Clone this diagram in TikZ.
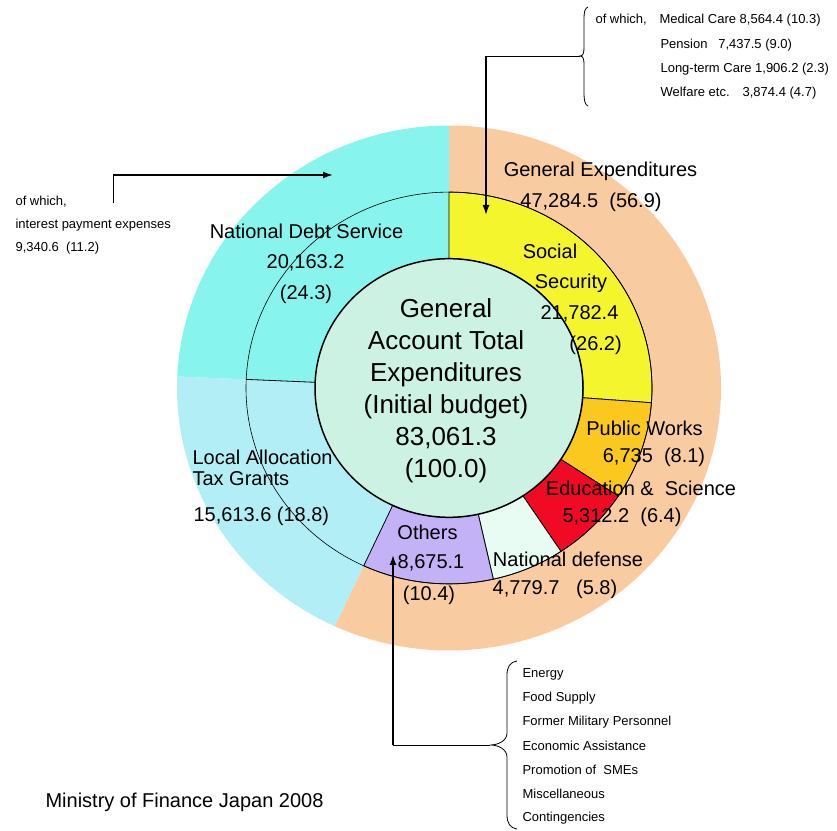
\documentclass[tikz,border=0pt]{standalone}
\usepackage{fontspec}
\setmainfont{Liberation Sans}
\usetikzlibrary{arrows.meta}
\definecolor{debtcyan}{RGB}{135,245,238}
\definecolor{alloblue}{RGB}{178,238,246}
\definecolor{genpeach}{RGB}{248,204,160}
\definecolor{ssyellow}{RGB}{245,245,45}
\definecolor{pworange}{RGB}{250,200,30}
\definecolor{esred}{RGB}{240,10,35}
\definecolor{ndmint}{RGB}{232,252,244}
\definecolor{otlilac}{RGB}{196,178,246}
\definecolor{totmint}{RGB}{204,242,228}
\begin{document}
\begin{tikzpicture}[x=1pt,y=1pt,
biglabel/.style={font=\fontsize{20}{24}\selectfont},
smalllabel/.style={font=\fontsize{13}{15}\selectfont,anchor=west},
thinline/.style={line width=0.8pt},
arrowline/.style={line width=1.6pt,-{Latex[length=10pt,width=7pt]}}]
\useasboundingbox (0,0) rectangle (837,830);
\begin{scope}[shift={(449,442)},yscale=0.965]
\foreach \a/\b/\c in {90/-114.84/genpeach, -114.84/-182.52/alloblue, 177.48/90/debtcyan}
\fill[\c] (0,0) -- (\a:272) arc[start angle=\a,end angle=\b,radius=272] -- cycle;
\foreach \a/\b/\c in {90/-4.32/ssyellow, -4.32/-33.48/pworange, -33.48/-56.52/esred, -56.52/-77.4/ndmint, -77.4/-114.84/otlilac}
\draw[thinline,fill=\c] (\a:203) arc[start angle=\a,end angle=\b,radius=203] -- (\b:134) arc[start angle=\b,end angle=\a,radius=134] -- cycle;
\draw[line width=0.6pt] (0,0) circle[radius=203];
\draw[thinline] (177.48:134) -- (177.48:203);
\draw[line width=1.5pt,fill=totmint] (0,0) circle[radius=134];
\end{scope}
% labels on the rings
\node[align=center,font=\fontsize{26}{32}\selectfont] (total) at (446,439) {General\\Account Total\\Expenditures\\(Initial budget)\\83,061.3\\(100.0)};
\node[biglabel] (genexp) at (600.5,659) {General Expenditures};
\node[biglabel] (genexpval) at (591,628) {47,284.5\ \ (56.9)};
\node[biglabel] (debt) at (306.5,599) {National Debt Service};
\node[biglabel] (debtval) at (305.6,567) {20,163.2};
\node[biglabel] (debtpct) at (306,536) {(24.3)};
\node[biglabel] (soc) at (550,579) {Social};
\node[biglabel] (secu) at (571,547) {Security};
\node[biglabel] (socval) at (579.5,516) {21,782.4};
\node[biglabel] (socpct) at (595.6,485) {(26.2)};
\node[biglabel] (works) at (644.5,402) {Public Works};
\node[biglabel] (worksval) at (654,373) {6,735\ \ (8.1)};
\node[biglabel] (edu) at (641,342) {Education \&\ \ Science};
\node[biglabel] (eduval) at (622,313) {5,312.2\ \ (6.4)};
\node[biglabel] (defense) at (568,270.5) {National defense};
\node[biglabel] (defenseval) at (555,241) {4,779.7\ \ \ (5.8)};
\node[biglabel] (others) at (427.5,298) {Others};
\node[biglabel] (othersval) at (431,267) {8,675.1};
\node[biglabel] (otherspct) at (429,235) {(10.4)};
\node[biglabel,anchor=west] (alloc) at (189,373) {Local Allocation};
\node[biglabel,anchor=west] (tax) at (189,351.3) {Tax Grants};
\node[biglabel,anchor=west] (allocval) at (190,314) {15,613.6 (18.8)};
\node[biglabel,anchor=west] (ministry) at (42,28) {Ministry of Finance Japan 2008};
% interest payments
\node[smalllabel] (intwhich) at (12,628) {of which,};
\node[smalllabel] (interest) at (12,605) {interest payment expenses};
\node[smalllabel] (interestval) at (12,582) {9,340.6\ \ (11.2)};
% social security breakdown
\node[smalllabel] (sswhich) at (592,810) {of which,};
\node[smalllabel] (medical) at (656,810) {Medical Care 8,564.4 (10.3)};
\node[smalllabel] (pension) at (657,785) {Pension\ \ \ 7,437.5 (9.0)};
\node[smalllabel] (longterm) at (657,761) {Long-term Care 1,906.2 (2.3)};
\node[smalllabel] (welfare) at (657,737) {Welfare etc.\quad 3,874.4 (4.7)};
% others breakdown
\foreach \t [count=\i from 0] in {Energy, Food Supply, Former Military Personnel, Economic Assistance, Promotion of\ \ SMEs, Miscellaneous, Contingencies}
\node[smalllabel] (item\i) at (519,156-24*\i) {\t};
% braces and arrows
\draw[thinline] (588,823) .. controls (585,822) and (584,818) .. (584,812) -- (584,782) .. controls (584,777) and (583,774) .. (580,774) .. controls (583,774) and (584,771) .. (584,766) -- (584,736) .. controls (584,730) and (585,725) .. (588,724);
\draw[thinline] (517,169) .. controls (510,168) and (507,163) .. (507,155) -- (507,97) .. controls (507,89) and (498,85) .. (490,85) .. controls (498,85) and (507,81) .. (507,73) -- (507,15) .. controls (507,7) and (510,2) .. (517,1);
\coordinate (sstip) at (580,774);
\coordinate (sscorner) at (486,774);
\coordinate (ssarrow) at (486,615);
\coordinate (ottip) at (490,85);
\coordinate (otcorner) at (393,85);
\coordinate (otarrow) at (393,275);
\coordinate (intstart) at (113,627);
\coordinate (intcorner) at (113,655);
\coordinate (intarrow) at (333,655);
\draw[thinline] (sstip) -- (sscorner);
\draw[arrowline] (sscorner) -- (ssarrow);
\draw[thinline] (ottip) -- (otcorner);
\draw[arrowline] (otcorner) -- (otarrow);
\draw[thinline] (intstart) -- (intcorner);
\draw[arrowline] (intcorner) -- (intarrow);
\end{tikzpicture}
\end{document}
